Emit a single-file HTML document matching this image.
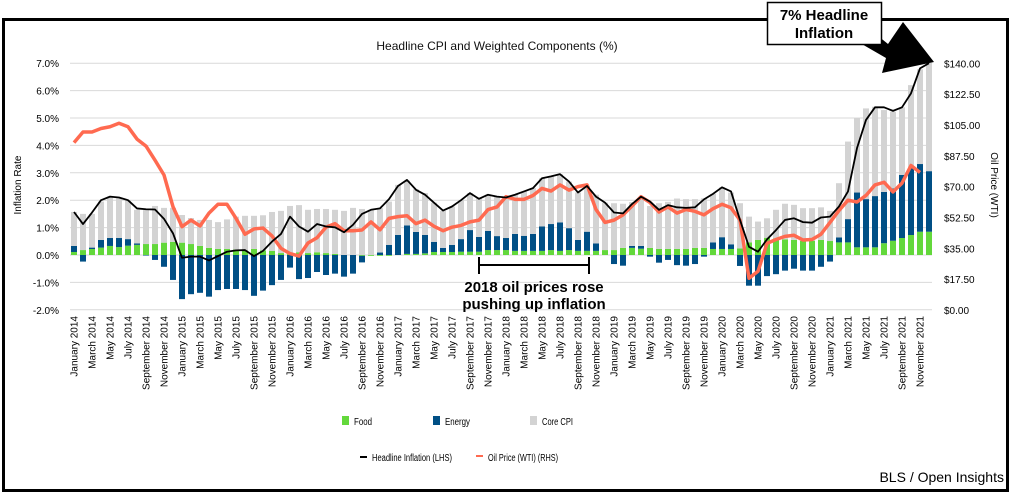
<!DOCTYPE html>
<html><head><meta charset="utf-8"><style>
body{margin:0;background:#fff;font-family:"Liberation Sans",Arial,sans-serif;}
svg text{font-family:"Liberation Sans",Arial,sans-serif;}
</style></head><body>
<svg id="chart" width="1013" height="496" viewBox="0 0 1013 496" xmlns="http://www.w3.org/2000/svg">
<rect x="3.5" y="19.5" width="1004" height="471" fill="#fff" stroke="#000" stroke-width="3"/>
<text x="497" y="50" font-size="12" text-anchor="middle" fill="#111">Headline CPI and Weighted Components (%)</text>
<g id="grid"></g><g id="bars"></g><g id="lines"></g><g id="axes"></g>
<text transform="translate(21,185) rotate(-90)" font-size="10" text-anchor="middle">Inflation Rate</text>
<text transform="translate(991,185) rotate(90)" font-size="10" text-anchor="middle">Oil Price (WTI)</text>
<g stroke="#000" stroke-width="2">
<line x1="479" y1="265" x2="589" y2="265"/><line x1="479" y1="257" x2="479" y2="274"/><line x1="589" y1="257" x2="589" y2="274"/></g>
<text font-size="15" font-weight="bold" text-anchor="middle"><tspan x="534" y="292">2018 oil prices rose</tspan><tspan x="534" y="309">pushing up inflation</tspan></text>
<g font-size="10">
<rect x="342" y="416" width="7" height="9" fill="#63d83b"/><text x="354" y="425" textLength="18" lengthAdjust="spacingAndGlyphs">Food</text>
<rect x="433" y="416" width="7" height="9" fill="#004f85"/><text x="445" y="425" textLength="25" lengthAdjust="spacingAndGlyphs">Energy</text>
<rect x="530" y="416" width="7" height="9" fill="#d3d3d3"/><text x="542" y="425" textLength="31" lengthAdjust="spacingAndGlyphs">Core CPI</text>
<rect x="360" y="456" width="7" height="2" fill="#000"/><text x="372" y="461" textLength="80" lengthAdjust="spacingAndGlyphs">Headline Inflation (LHS)</text>
<rect x="476" y="455" width="7" height="2" fill="#ff6a50"/><text x="488" y="461" textLength="70" lengthAdjust="spacingAndGlyphs">Oil Price (WTI) (RHS)</text>
</g>
<text x="1004" y="482" font-size="14" text-anchor="end">BLS / Open Insights</text>
<g>
<polygon points="867,27 888,44 903,22 934,62 882,73 886,58 860,43" fill="#000"/>
<rect x="767.5" y="2.5" width="114" height="42" fill="#fff" stroke="#000" stroke-width="1.5"/>
<text font-size="15" font-weight="bold" text-anchor="middle"><tspan x="824" y="20">7% Headline</tspan><tspan x="824" y="38">Inflation</tspan></text>
</g>
</svg>
<script>
const months=["January","February","March","April","May","June","July","August","September","October","November","December"];
const categories=[];for(let y=2014;y<=2021;y++)for(const m of months)categories.push(m+" "+y);
const food=[.11,.18,.22,.27,.33,.29,.34,.37,.4,.4,.45,.48,.45,.4,.33,.26,.22,.22,.2,.17,.22,.17,.15,.07,.07,.1,.07,.1,.07,.04,0,0,-.03,-.03,-.03,-.03,0,.04,.04,.06,.11,.11,.11,.12,.12,.12,.18,.18,.18,.15,.15,.15,.15,.18,.15,.18,.15,.15,.15,.18,.18,.26,.26,.23,.26,.22,.22,.22,.22,.26,.26,.22,.22,.22,.24,.46,.55,.63,.61,.57,.55,.52,.52,.55,.51,.46,.46,.28,.28,.28,.43,.52,.62,.73,.85,.85];
const energy=[.22,-.24,.05,.28,.29,.33,.24,.05,-.02,-.18,-.43,-.91,-1.61,-1.43,-1.38,-1.52,-1.28,-1.24,-1.24,-1.28,-1.49,-1.3,-1.1,-.91,-.46,-.88,-.84,-.62,-.73,-.68,-.79,-.68,-.24,0,.09,.37,.73,1.04,.8,.67,.37,.15,.26,.46,.79,.54,.7,.51,.44,.62,.55,.62,.89,.95,1.04,.8,.4,.7,.27,0,-.33,-.39,.07,.1,-.06,-.28,-.18,-.37,-.39,-.33,-.06,.24,.43,.17,-.4,-1.12,-1.12,-.77,-.7,-.57,-.5,-.57,-.57,-.43,-.24,.18,.85,2.0,1.76,1.87,1.87,1.91,2.3,2.43,2.47,2.21];
const core=[1.24,1.32,1.23,1.4,1.51,1.45,1.42,1.23,1.24,1.39,1.27,1.24,1.01,.95,.95,1.02,.98,1.08,1.2,1.26,1.21,1.28,1.42,1.54,1.72,1.72,1.58,1.58,1.61,1.61,1.61,1.72,1.68,1.65,1.62,1.58,1.83,1.64,1.56,1.53,1.43,1.35,1.4,1.42,1.35,1.41,1.32,1.44,1.48,1.43,1.62,1.67,1.76,1.74,1.76,1.7,1.73,1.67,1.78,1.73,1.71,1.61,1.6,1.74,1.53,1.67,1.72,1.84,1.82,1.78,1.81,1.77,1.82,1.89,1.65,.94,.67,.71,1.04,1.3,1.28,1.19,1.19,1.19,1.1,1.98,2.83,2.72,3.31,3.26,2.99,2.8,2.47,3.04,3.46,3.94];
const headline=[1.57,1.13,1.55,2.0,2.13,2.1,2.0,1.7,1.67,1.66,1.32,.79,-.1,-.06,-.06,-.2,-.04,.12,.17,.18,-.04,.15,.49,.77,1.4,1.04,.85,1.13,1.04,1.01,.83,1.1,1.5,1.65,1.7,2.04,2.52,2.74,2.38,2.2,1.91,1.62,1.77,2.0,2.26,2.05,2.2,2.13,2.1,2.2,2.32,2.44,2.8,2.87,2.95,2.68,2.28,2.52,2.13,1.91,1.55,1.52,1.86,2.13,1.95,1.65,1.82,1.74,1.72,1.74,2.03,2.23,2.47,2.32,1.28,.3,.12,.57,.91,1.28,1.34,1.2,1.18,1.37,1.4,1.77,2.32,3.9,4.93,5.39,5.39,5.26,5.39,5.9,6.81,7.0];
const oil=[95,101,101,103,104,106,104,97,93,85,76.6,58.6,47.3,51,47.7,55,60,60,52,43,46,46.5,42,35,32,30.6,38,41,47,49,45,45,45.4,50,45.5,52,53,53.5,49,51,47.5,45,47,48,50,51,57,58.5,64.3,62.8,62.8,65,69,67.5,71,68,70,71,57,49.7,51,54,59,64.3,61,55.6,58.5,55,57,56,54,57.5,60,58,51,18,22,37.8,40,41.8,42.4,39.7,40,43,49.7,56.5,62.3,61.3,65,71,72.5,67,72,82,78];
const yTicks=[7,6,5,4,3,2,1,0,-1,-2];
const y2Ticks=[140,122.5,105,87.5,70,52.5,35,17.5,0];
const X0=74,DX=9,BW=6,PL=70,PR=932;
const y=v=>255-v*27.4;
const y2=v=>310-v*(246.7/140);
const x=i=>X0+DX*i;
const NS="http://www.w3.org/2000/svg";
function mk(tag,attrs,parent){const e=document.createElementNS(NS,tag);for(const k in attrs)e.setAttribute(k,attrs[k]);parent.appendChild(e);return e;}
const grid=document.getElementById('grid'),axes=document.getElementById('axes'),bars=document.getElementById('bars'),lines=document.getElementById('lines');
yTicks.forEach(t=>{
  const l=mk('line',{x1:PL,x2:PR,y1:y(t),y2:y(t),stroke:'#d9d9d9','stroke-width':1},grid);
  
  
  const tx=mk('text',{x:59,y:y(t)+4,'font-size':10,'text-anchor':'end'},axes);tx.textContent=t.toFixed(1)+'%';
  
  
});
y2Ticks.forEach(t=>{
  const tx=mk('text',{x:944,y:y2(t)+4,'font-size':10},axes);tx.textContent='$'+t.toFixed(2);
  
  
});
categories.forEach((c,i)=>{
  if(i%2==0){const tx=mk('text',{transform:`translate(${x(i)+3.5},316) rotate(-90)`,'font-size':10,'text-anchor':'end'},axes);tx.textContent=c;
  
  }
  let pos=0,neg=0;
  const seg=(v,col,name)=>{if(!v)return;let a,b;if(v>0){a=pos;b=pos+v;pos=b;}else{a=neg;b=neg+v;neg=b;}
    const r=mk('rect',{x:x(i)-BW/2,y:y(Math.max(a,b)),width:BW,height:Math.abs(y(a)-y(b)),fill:col},bars);
    
    };
  seg(food[i],'#63d83b','bar-food');seg(energy[i],'#004f85','bar-energy');seg(core[i],'#d3d3d3','bar-core');
});
const pl=(arr,f,col,w,name)=>{const p=mk('polyline',{points:arr.map((v,i)=>x(i)+','+f(v)).join(' '),fill:'none',stroke:col,'stroke-width':w,'stroke-linejoin':'round'},lines);
  
  };
pl(oil,y2,'#ff6a50',3.5,'oil-price-line');
pl(headline,y,'#000',1.8,'headline-inflation-line');
</script>
</body></html>
